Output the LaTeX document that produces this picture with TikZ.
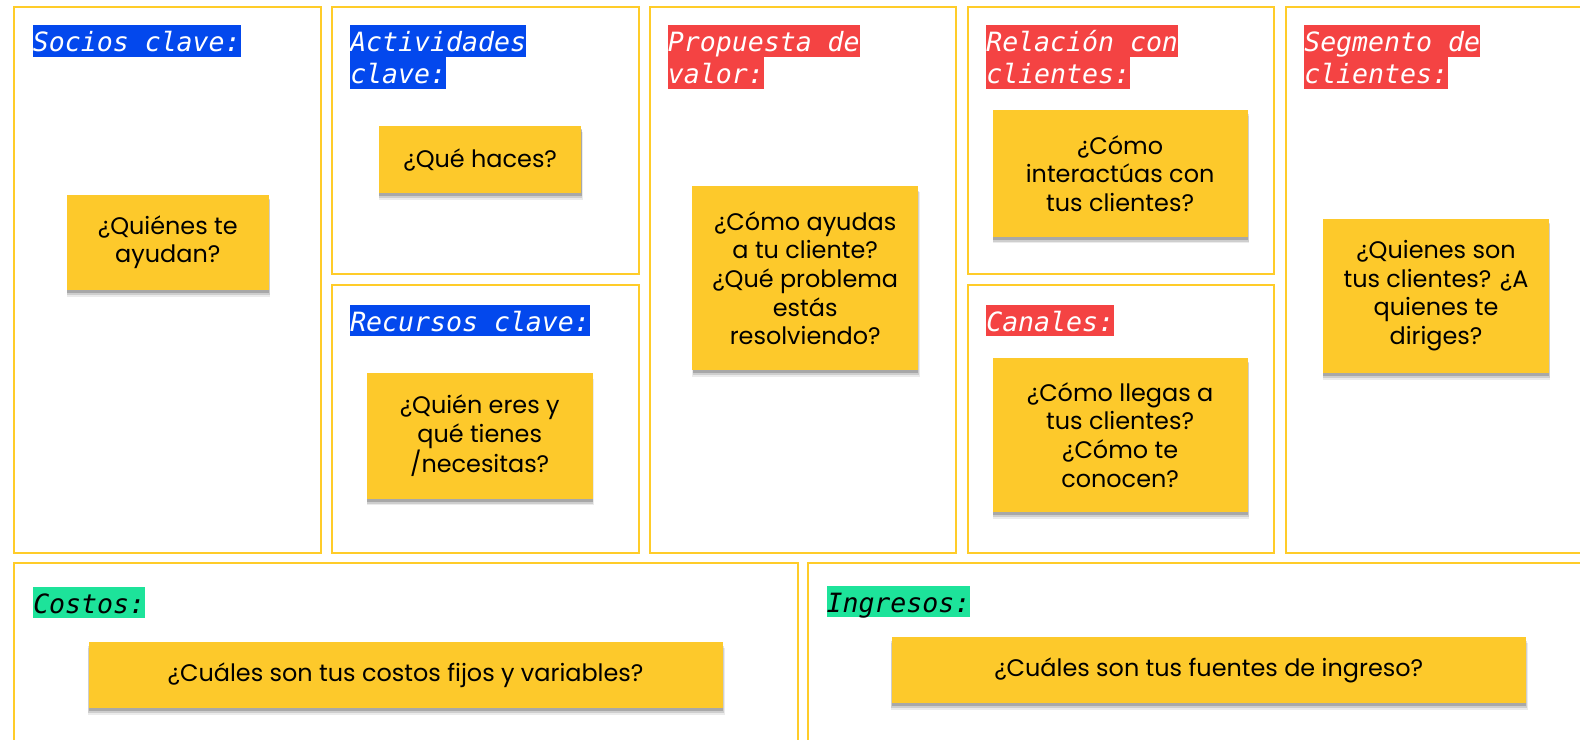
\documentclass[tikz,border=0pt]{standalone}
\usepackage{fontspec}
\setmainfont{Poppins}
\newfontfamily\labfont{DejaVu Sans Mono}
\usetikzlibrary{fit,shadows}
\definecolor{frameY}{RGB}{255,204,41}
\definecolor{noteY}{RGB}{253,201,43}
\definecolor{labBlue}{RGB}{3,72,237}
\definecolor{labRed}{RGB}{244,67,67}
\definecolor{labGreen}{RGB}{29,227,154}
\tikzset{
  frame/.style={draw=frameY, line width=1.5pt, inner sep=0pt, fill=white},
  note/.style 2 args={fill=noteY, inner sep=0pt, align=center,
    minimum width=#1*0.75pt, minimum height=#2*0.75pt,
    font=\fontsize{17.94}{21.46}\selectfont,
    general shadow={fill=black, opacity=0.08, shadow xshift=0.6pt, shadow yshift=-4.6pt, shadow scale=1.006},
    general shadow={fill=black, opacity=0.12, shadow xshift=0.4pt, shadow yshift=-3.4pt, shadow scale=1.003},
    general shadow={fill=black, opacity=0.18, shadow xshift=0.2pt, shadow yshift=-2.2pt}},
  lab/.style={anchor=north west, inner xsep=0pt, inner ysep=0pt, text height=20pt, text depth=3.75pt,
    font=\fontsize{19.9}{24}\selectfont\labfont\itshape, text=white},
  labB/.style={lab, fill=labBlue},
  labR/.style={lab, fill=labRed},
  labG/.style={lab, fill=labGreen, text=black},
}
\begin{document}
\begin{tikzpicture}[x=0.75pt,y=-0.75pt]
\fill[white] (0,0) rectangle (1580,739);
% frames
\node[frame, fit={(14.3,6.7)(320.7,552.7)}] (f1) {};
\node[frame, fit={(332.3,6.7)(638.7,274.1)}] (f2) {};
\node[frame, fit={(332.3,285.2)(638.7,552.7)}] (f3) {};
\node[frame, fit={(650,6.7)(956,552.7)}] (f4) {};
\node[frame, fit={(968,6.7)(1274,274.1)}] (f5) {};
\node[frame, fit={(968,285.2)(1274,552.7)}] (f6) {};
\node[frame, fit={(1286,6.7)(1592,552.7)}] (f7) {};
\node[frame, fit={(14.3,563)(798,745)}] (f8) {};
\node[frame, fit={(808.2,563)(1592,745)}] (f9) {};
% labels
\node[labB] (l1) at (32.7,25) {Socios clave:};
\node[labB] (l2a) at (350,25) {Actividades};
\node[labB] (l2b) at (350,56.7) {clave:};
\node[labB] (l3) at (350,304.3) {Recursos clave:};
\node[labR] (l4a) at (667.7,25) {Propuesta de};
\node[labR] (l4b) at (667.7,56.7) {valor:};
\node[labR] (l5a) at (986,25) {Relación con};
\node[labR] (l5b) at (986,56.7) {clientes:};
\node[labR] (l6) at (986,304.3) {Canales:};
\node[labR] (l7a) at (1304,25) {Segmento de};
\node[labR] (l7b) at (1304,56.7) {clientes:};
\node[labG] (l8) at (33,586.5) {Costos:};
\node[labG] (l9) at (826.3,585.5) {Ingresos:};
% notes
\node[note={202.5}{95.7}] (n1) at (167.8,242.4) {¿Quiénes te\\ayudan?};
\node[note={202.5}{67.5}] (n2) at (480.2,159.7) {¿Qué haces?};
\node[note={225.7}{126}] (n3) at (479.7,435.8) {¿Quién eres y\\qué tienes\\/necesitas?};
\node[note={225.7}{183.4}] (n4) at (805.2,278.1) {¿Cómo ayudas\\a tu cliente?\\¿Qué problema\\estás\\resolviendo?};
\node[note={255}{127}] (n5) at (1120.1,173.3) {¿Cómo\\interactúas con\\tus clientes?};
\node[note={255}{154.2}] (n6) at (1120.1,434.8) {¿Cómo llegas a\\tus clientes?\\¿Cómo te\\conocen?};
\node[note={225.7}{154.2}] (n7) at (1436,295.8) {¿Quienes son\\tus clientes? ¿A\\quienes te\\diriges?};
\node[note={633.8}{66.5}] (n8) at (405.6,675.2) {¿Cuáles son tus costos fijos y variables?};
\node[note={633.8}{66.5}] (n9) at (1208.7,670.1) {¿Cuáles son tus fuentes de ingreso?};
\pgfresetboundingbox
\useasboundingbox (0,0) rectangle (1580,739);
\end{tikzpicture}
\end{document}
